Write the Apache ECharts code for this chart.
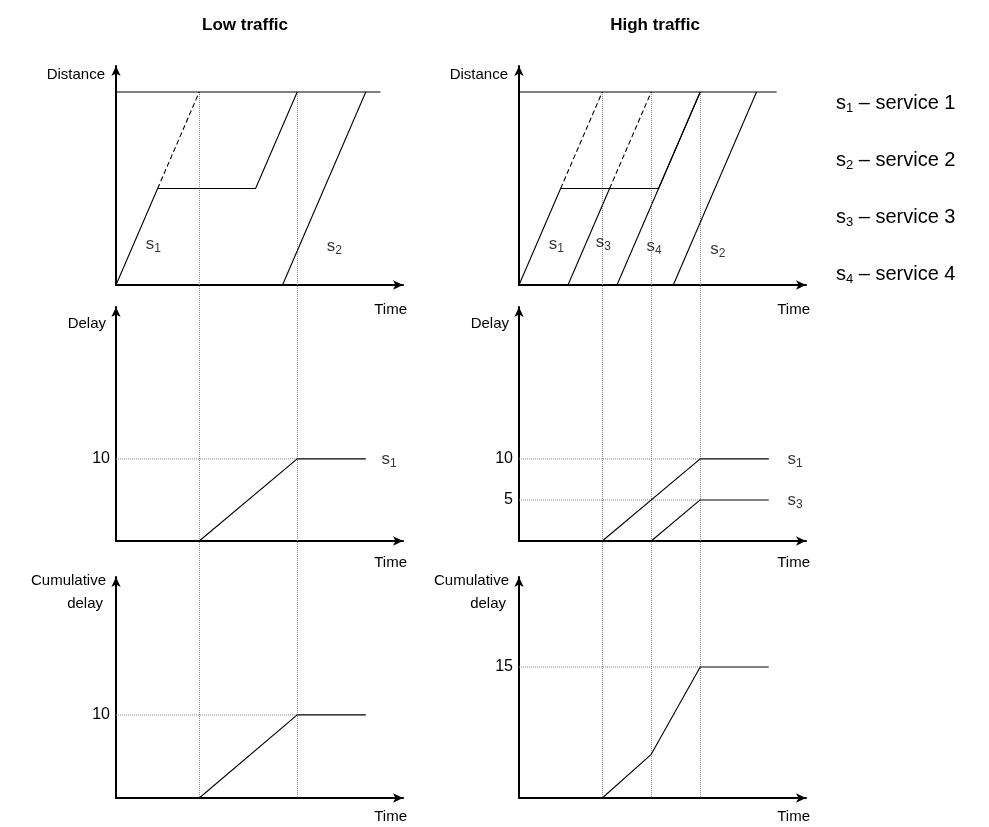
<!DOCTYPE html>
<html>
<head>
<meta charset="utf-8">
<script src="https://cdn.jsdelivr.net/npm/echarts@6/dist/echarts.min.js"></script>
<style>
  html, body { margin: 0; padding: 0; background: #fff; }
  #chart { width: 989px; height: 827px; }
</style>
</head>
<body>
<div id="chart"></div>
<script>
// distance / time diagrams (time units, distance in %)
const lowS1 = [[0, 0], [4.25, 50], [14.25, 50], [18.5, 100]];
const lowS1Free = [[4.25, 50], [8.5, 100]];
const lowS2 = [[17, 0], [25.5, 100]];
const lowEnd = [[0, 100], [27, 100]];

const highS1 = [[0, 0], [4.25, 50], [14.25, 50], [18.5, 100]];
const highS1Free = [[4.25, 50], [8.5, 100]];
const highS3 = [[5, 0], [9.25, 50]];
const highS3Free = [[9.25, 50], [13.5, 100]];
const highS4 = [[10, 0], [18.5, 100]];
const highS2 = [[15.75, 0], [24.25, 100]];
const highEnd = [[0, 100], [26.3, 100]];

// delay per service
const lowDelayS1 = [[8.5, 0], [18.5, 10], [25.5, 10]];
const highDelayS1 = [[8.5, 0], [18.5, 10], [25.5, 10]];
const highDelayS3 = [[13.5, 0], [18.5, 5], [25.5, 5]];

// cumulative delay
const lowCumDelay = [[8.5, 0], [18.5, 10], [25.5, 10]];
const highCumDelay = [[8.5, 0], [13.5, 5], [18.5, 15], [25.5, 15]];

// arrival times (dotted verticals)
const lowArrivals = [8.5, 18.5];
const highArrivals = [8.5, 13.5, 18.5];

// y tick labels
const lowDelayTicks = [10];
const highDelayTicks = [10, 5];
const lowCumTicks = [10];
const highCumTicks = [15];

const serviceIds = ['1', '2', '3', '4'];
const serviceNames = ['service 1', 'service 2', 'service 3', 'service 4'];

const FONT = '"Liberation Sans", Arial, sans-serif';
const colLeft = [116, 519];
const plotW = 287;
const timeMax = 29.3;
// top, bottom, y max (left, right)
const rows = [
  { top: 66, bottom: 285, max: [113.5, 113.5] },
  { top: 307, bottom: 541, max: [28.5, 28.5] },
  { top: 577, bottom: 798, max: [26.6, 25.3] }
];

const chart = echarts.init(document.getElementById('chart'));

const grids = [], xAxes = [], yAxes = [];
const yTicks = [[], [], lowDelayTicks, highDelayTicks, lowCumTicks, highCumTicks];
rows.forEach((r, ri) => {
  colLeft.forEach((left, ci) => {
    const g = ri * 2 + ci;
    grids.push({ left: left, top: r.top, width: plotW, height: r.bottom - r.top });
    const axisLine = {
      show: true, onZero: false,
      symbol: ['none', 'arrow'], symbolSize: [7, 10],
      lineStyle: { color: '#000', width: 2 }
    };
    xAxes.push({
      type: 'value', gridIndex: g, min: 0, max: timeMax,
      axisLine: axisLine, axisTick: { show: false }, axisLabel: { show: false },
      splitLine: { show: false }
    });
    yAxes.push({
      type: 'value', gridIndex: g, min: 0, max: r.max[ci],
      axisLine: axisLine, axisTick: { show: false },
      axisLabel: {
        show: yTicks[g].length > 0, customValues: yTicks[g],
        color: '#000', fontSize: 16, fontFamily: FONT, margin: 6
      },
      splitLine: { show: false }
    });
  });
});

function line(data, g, dash, width) {
  return {
    type: 'line', xAxisIndex: g, yAxisIndex: g, data: data,
    symbol: 'none', silent: true, animation: false, z: 3,
    lineStyle: { color: '#000', width: width || 1.1, type: dash || 'solid' }
  };
}
function guide(value, upTo, g) {
  return {
    type: 'line', xAxisIndex: g, yAxisIndex: g, data: [[0, value], [upTo, value]],
    symbol: 'none', silent: true, animation: false, z: 1,
    lineStyle: { color: '#888', width: 1, type: [1, 1] }
  };
}
const subRich = {
  s: { fontSize: 17, fontFamily: FONT, color: '#000' },
  n: { fontSize: 12, fontFamily: FONT, color: '#000', padding: [9, 0, 0, 0] }
};
function tags(items, g) {
  return {
    type: 'scatter', xAxisIndex: g, yAxisIndex: g, symbolSize: 0, silent: true,
    animation: false,
    data: items.map(it => ({
      value: [it[0], it[1]],
      label: { show: true, position: 'inside', align: it[3] || 'center',
        formatter: '{s|s}{n|' + it[2] + '}', rich: subRich }
    }))
  };
}

const series = [
  line(lowEnd, 0), line(lowS1, 0), line(lowS1Free, 0, [5, 3]), line(lowS2, 0),
  tags([[3.8, 21, '1'], [22.3, 20, '2']], 0),

  line(highEnd, 1), line(highS1, 1), line(highS1Free, 1, [5, 3]),
  line(highS3, 1), line(highS3Free, 1, [5, 3]), line(highS4, 1), line(highS2, 1),
  tags([[3.8, 21, '1'], [8.6, 22, '3'], [13.8, 20, '4'], [20.3, 18.5, '2']], 1),

  guide(10, 18.5, 2), line(lowDelayS1, 2),
  tags([[27.1, 10, '1', 'left']], 2),

  guide(10, 18.5, 3), guide(5, 18.5, 3), line(highDelayS1, 3), line(highDelayS3, 3),
  tags([[27.4, 10, '1', 'left'], [27.4, 5, '3', 'left']], 3),

  guide(10, 18.5, 4), line(lowCumDelay, 4),
  guide(15, 18.5, 5), line(highCumDelay, 5)
];

chart.setOption({
  animation: false,
  grid: grids, xAxis: xAxes, yAxis: yAxes, series: series
});

function text(str, x, y, align, font) {
  return {
    type: 'text', silent: true, z: 10,
    style: { text: str, x: x, y: y, fill: '#000', font: font || ('15px ' + FONT),
      textAlign: align || 'left', textVerticalAlign: 'middle' }
  };
}

const graphics = [];
graphics.push(text('Low traffic', 245, 25, 'center', 'bold 17px ' + FONT));
graphics.push(text('High traffic', 655, 25, 'center', 'bold 17px ' + FONT));

[0, 1].forEach(ci => {
  const L = colLeft[ci];
  graphics.push(text('Distance', L - 11, 75, 'right'));
  graphics.push(text('Delay', L - 10, 324, 'right'));
  graphics.push(text('Cumulative', L - 10, 581, 'right'));
  graphics.push(text('delay', L - 13, 604, 'right'));
  const R = L + plotW + 4;
  graphics.push(text('Time', R, 310, 'right'));
  graphics.push(text('Time', R, 563, 'right'));
  graphics.push(text('Time', R, 817, 'right'));
});

serviceIds.forEach((id, i) => {
  graphics.push({
    type: 'text', silent: true, z: 10,
    style: {
      text: '{s|s}{n|' + id + '}{t| – ' + serviceNames[i] + '}',
      x: 836, y: 103 + i * 57, textVerticalAlign: 'middle',
      rich: {
        s: { fontSize: 20, fontFamily: FONT, fill: '#000' },
        n: { fontSize: 13, fontFamily: FONT, fill: '#000', padding: [11, 0, 0, 0] },
        t: { fontSize: 20, fontFamily: FONT, fill: '#000' }
      }
    }
  });
});

// dotted verticals from the top of the distance plot down to the cumulative baseline
function verticals(times, topGrid, bottomGrid) {
  return times.map(t => {
    const a = chart.convertToPixel({ gridIndex: topGrid }, [t, 100]);
    const b = chart.convertToPixel({ gridIndex: bottomGrid }, [t, 0]);
    const x = Math.round(a[0]) + 0.5;
    return {
      type: 'line', silent: true, z: 1,
      shape: { x1: x, y1: a[1], x2: x, y2: b[1] },
      style: { stroke: '#888', lineWidth: 1, lineDash: [1, 1] }
    };
  });
}
graphics.push(...verticals(lowArrivals, 0, 4));
graphics.push(...verticals(highArrivals, 1, 5));

chart.setOption({ graphic: graphics });
</script>
</body>
</html>
